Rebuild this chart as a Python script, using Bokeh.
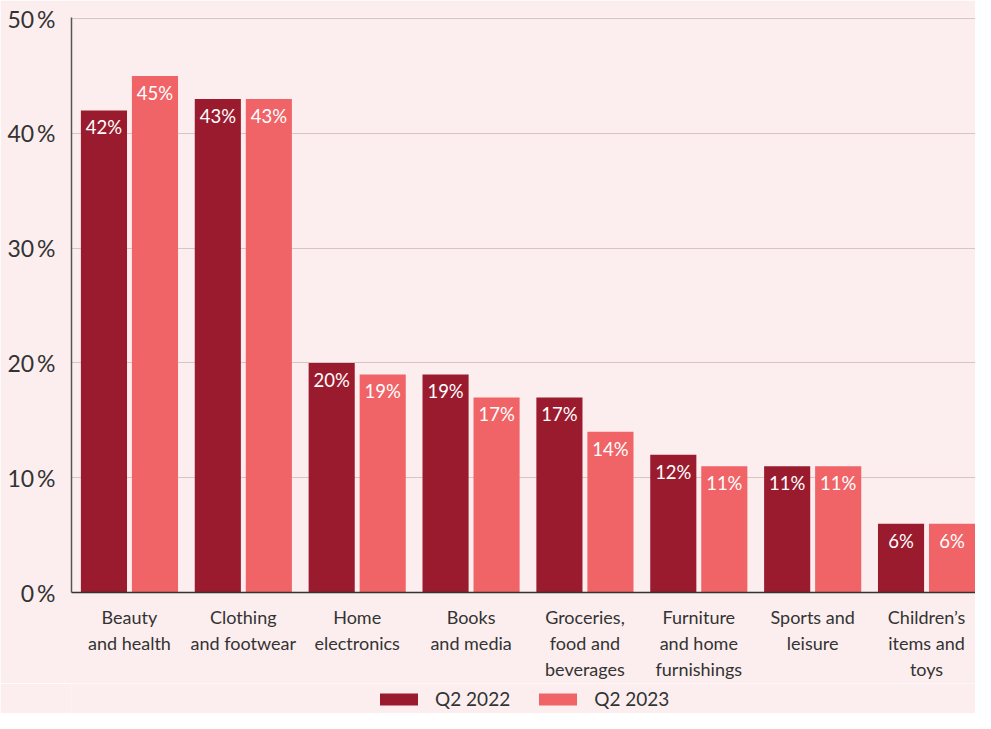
from bokeh.plotting import figure
from bokeh.models import Range1d, FixedTicker, ColumnDataSource, Legend, LegendItem, LabelSet
from bokeh.layouts import column
from bokeh.embed import file_html
from bokeh.resources import INLINE
from bokeh.core.properties import value

categories = ["Beauty\nand health", "Clothing\nand footwear", "Home\nelectronics",
              "Books\nand media", "Groceries,\nfood and\nbeverages", "Furniture\nand home\nfurnishings",
              "Sports and\nleisure", "Children’s\nitems and\ntoys"]
q2_2022 = [42, 43, 20, 19, 17, 12, 11, 6]
q2_2023 = [45, 43, 19, 17, 14, 11, 11, 6]
series_names = ["Q2 2022", "Q2 2023"]
y_ticks = [0, 10, 20, 30, 40, 50]

DARK = "#9B1B2E"
LIGHT = "#F06467"
BG = "#FCEEEE"
TXT = "#333333"
FONT = "Lato"

idx = list(range(len(categories)))
off = 0.224
bw = 0.405

p = figure(width=975, height=683, output_backend="svg", toolbar_location=None,
           x_range=Range1d(-0.509, 7.43), y_range=Range1d(0, 50.1),
           background_fill_color=BG, border_fill_color=BG,
           min_border_left=71, min_border_right=0, min_border_top=17, min_border_bottom=82)
p.outline_line_color = None

s1 = ColumnDataSource(dict(x=[i - off for i in idx], top=q2_2022, lab=[f"{v}%" for v in q2_2022]))
s2 = ColumnDataSource(dict(x=[i + off for i in idx], top=q2_2023, lab=[f"{v}%" for v in q2_2023]))

p.vbar(x="x", top="top", width=bw, source=s1, fill_color=DARK, line_color=None)
p.vbar(x="x", top="top", width=bw, source=s2, fill_color=LIGHT, line_color=None)

for s in (s1, s2):
    p.add_layout(LabelSet(x="x", y="top", text="lab", source=s, text_align="center",
                          text_baseline="middle", y_offset=-17, text_color="white",
                          text_font=value(FONT), text_font_size="18.5px"))

p.xgrid.grid_line_color = None
p.ygrid.ticker = FixedTicker(ticks=y_ticks)
p.ygrid.grid_line_color = "#D9C3C3"
p.ygrid.grid_line_width = 1

p.yaxis.ticker = FixedTicker(ticks=y_ticks)
p.yaxis.major_label_overrides = {t: f"{t}\u2009%" for t in y_ticks}
p.yaxis.major_label_text_font = FONT
p.yaxis.major_label_text_font_size = "23px"
p.yaxis.major_label_text_color = TXT
p.yaxis.axis_line_color = "#555555"
p.yaxis.axis_line_width = 1.5
p.yaxis.major_tick_line_color = None
p.yaxis.minor_tick_line_color = None
p.yaxis.major_label_standoff = 10

p.xaxis.ticker = FixedTicker(ticks=idx)
p.xaxis.major_label_overrides = {i: c for i, c in zip(idx, categories)}
p.xaxis.major_label_text_font = FONT
p.xaxis.major_label_text_font_size = "18px"
p.xaxis.major_label_text_color = TXT
p.xaxis.axis_line_color = "#333333"
p.xaxis.axis_line_width = 1.5
p.xaxis.major_tick_line_color = None
p.xaxis.minor_tick_line_color = None
p.xaxis.major_label_standoff = 7

# legend strip below the chart (invisible proxy renderers carry the swatch style)
lf = figure(width=975, height=30, output_backend="svg", toolbar_location=None,
            x_range=Range1d(0, 1), y_range=Range1d(0, 1),
            x_axis_location=None, y_axis_location=None,
            background_fill_color=BG, border_fill_color=BG,
            min_border_left=0, min_border_right=0, min_border_top=0, min_border_bottom=0)
lf.outline_line_color = None
lf.xgrid.visible = False
lf.ygrid.visible = False
l1 = lf.line(x=idx, y=q2_2022, line_color=DARK, line_width=12, line_cap="round", visible=False)
l2 = lf.line(x=idx, y=q2_2023, line_color=LIGHT, line_width=12, line_cap="round", visible=False)
legend = Legend(items=[LegendItem(label=series_names[0], renderers=[l1]),
                       LegendItem(label=series_names[1], renderers=[l2])],
                orientation="horizontal", location=(309, 3),
                background_fill_alpha=0, border_line_color=None,
                label_text_font=FONT, label_text_font_size="19px", label_text_color=TXT,
                glyph_width=38, glyph_height=16, spacing=29, label_standoff=17,
                padding=3, margin=0, click_policy="none")
lf.add_layout(legend)

layout = column(p, lf, spacing=0)
open("out.html", "w").write(file_html(layout, INLINE))
